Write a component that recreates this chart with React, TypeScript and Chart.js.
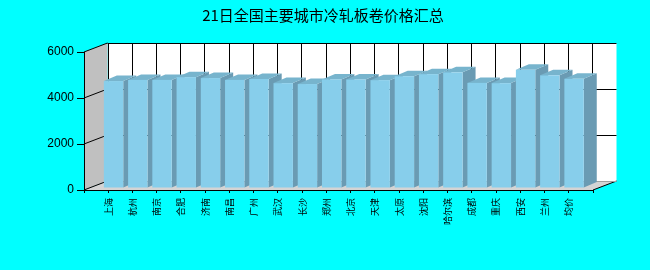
import React, { useEffect, useRef } from 'react';
import { Chart, registerables } from 'chart.js';

Chart.register(...registerables);

const TITLE = '21日全国主要城市冷轧板卷价格汇总';
const cities = ['上海', '杭州', '南京', '合肥', '济南', '南昌', '广州', '武汉', '长沙', '郑州', '北京', '天津', '太原', '沈阳', '哈尔滨', '成都', '重庆', '西安', '兰州', '均价'];
const prices = [4650, 4700, 4700, 4820, 4780, 4700, 4740, 4560, 4520, 4720, 4720, 4690, 4860, 4950, 5030, 4570, 4560, 5140, 4900, 4750];
const yTicks = [0, 2000, 4000, 6000];

const WALL = { dx: 23.5, dy: -9 };
const BAR_SHIFT = { dx: 5.3, dy: -2 };
const BAR_DEPTH = { dx: 13, dy: -5.5 };

const FRONT = '#87CEEB';
const SIDE = '#6A9BB3';
const TOP = '#77B4CD';

function poly(ctx: CanvasRenderingContext2D, pts: number[][], fill: string) {
  ctx.beginPath();
  ctx.moveTo(pts[0][0], pts[0][1]);
  for (let i = 1; i < pts.length; i++) ctx.lineTo(pts[i][0], pts[i][1]);
  ctx.closePath();
  ctx.fillStyle = fill;
  ctx.fill();
}

function line(ctx: CanvasRenderingContext2D, x1: number, y1: number, x2: number, y2: number) {
  ctx.beginPath();
  ctx.moveTo(x1, y1);
  ctx.lineTo(x2, y2);
  ctx.stroke();
}

const r = (v: number) => Math.round(v) + 0.5;

const threeD = {
  id: 'threeD',
  beforeDraw(chart: any) {
    const { ctx, chartArea: a, scales } = chart;
    const xs = scales.x;
    const ys = scales.y;
    ctx.save();
    ctx.fillStyle = '#00FFFF';
    ctx.fillRect(0, 0, chart.width, chart.height);
    const L = a.left, R = a.right, T = a.top, B = a.bottom;
    const dx = WALL.dx, dy = WALL.dy;
    ctx.fillStyle = '#FFFFFF';
    ctx.fillRect(L + dx, T + dy, R - L, B - T);
    poly(ctx, [[L, B], [L + dx, B + dy], [L + dx, T + dy], [L, T]], '#C0C0C0');
    poly(ctx, [[L, B], [R, B], [R + dx, B + dy], [L + dx, B + dy]], '#D4D4D4');
    ctx.strokeStyle = '#000000';
    ctx.lineWidth = 1;
    for (const v of yTicks) {
      const py = ys.getPixelForValue(v);
      line(ctx, L, py, L + dx, py + dy);
      if (v !== yTicks[0]) line(ctx, L + dx, r(py + dy), R + dx, r(py + dy));
    }
    for (let k = 1; k <= cities.length; k++) {
      const px = xs.getPixelForValue(k);
      line(ctx, r(px + dx), T + dy, r(px + dx), B + dy);
    }
    line(ctx, r(L + dx), T + dy, r(L + dx), B + dy);
    line(ctx, R, B, R + dx, B + dy);
    ctx.strokeStyle = '#A0A0A0';
    line(ctx, L + dx, r(B + dy), R + dx, r(B + dy));
    ctx.restore();
  },
  beforeDatasetDraw(chart: any, args: any) {
    const { ctx } = chart;
    const meta = args.meta;
    ctx.save();
    for (const el of meta.data) {
      const p = el.getProps(['x', 'y', 'base', 'width'], true);
      const left = p.x - p.width / 2 + BAR_SHIFT.dx;
      const right = left + p.width;
      const top = p.y + BAR_SHIFT.dy;
      const bottom = p.base + BAR_SHIFT.dy;
      const bx = BAR_DEPTH.dx, by = BAR_DEPTH.dy;
      poly(ctx, [[right, top], [right + bx, top + by], [right + bx, bottom + by], [right, bottom]], SIDE);
      poly(ctx, [[left, top], [right, top], [right + bx, top + by], [left + bx, top + by]], TOP);
      ctx.fillStyle = FRONT;
      ctx.fillRect(left, top, p.width, bottom - top);
    }
    ctx.restore();
    return false;
  },
  afterDraw(chart: any) {
    const { ctx } = chart;
    ctx.save();
    ctx.fillStyle = '#000000';
    ctx.font = '15px "Noto Sans CJK SC", sans-serif';
    ctx.textAlign = 'center';
    ctx.textBaseline = 'middle';
    ctx.fillText(TITLE, 323, 15);
    ctx.restore();
  },
};

export default function App() {
  const ref = useRef<HTMLCanvasElement>(null);
  useEffect(() => {
    if (!ref.current) return;
    const chart = new Chart(ref.current, {
      type: 'bar',
      data: {
        datasets: [
          {
            data: cities.map((c, i) => ({ x: i + 1, y: prices[i] })),
            backgroundColor: FRONT,
            barPercentage: 0.8,
            categoryPercentage: 1,
          } as any,
        ],
      },
      options: {
        responsive: false,
        animation: false,
        events: [],
        layout: { padding: { left: 0, right: 57, top: 52, bottom: 0 } },
        plugins: {
          legend: { display: false },
          tooltip: { enabled: false },
          title: { display: false },
        },
        scales: {
          x: {
            type: 'linear',
            offset: false,
            min: 0,
            max: cities.length + 1,
            afterFit: (s: any) => { s.height = 80; },
            afterBuildTicks: (s: any) => {
              const t = [];
              for (let k = 0; k <= cities.length + 1; k++) t.push({ value: k });
              s.ticks = t;
            },
            ticks: {
              autoSkip: false,
              minRotation: 90,
              maxRotation: 90,
              padding: 5,
              color: '#000000',
              font: { size: 9, family: '"Noto Sans CJK SC", sans-serif' },
              callback: (v: any) => cities[Number(v) - 1] ?? '',
            },
            grid: { offset: false, drawOnChartArea: false, drawTicks: true, tickLength: 3, tickColor: '#000000' },
            border: { display: true, color: '#000000' },
          },
          y: {
            type: 'linear',
            min: 0,
            max: 6000,
            afterFit: (s: any) => { s.width = 84; },
            afterBuildTicks: (s: any) => { s.ticks = yTicks.map((v) => ({ value: v })); },
            ticks: {
              padding: 3,
              color: '#000000',
              font: { size: 12, family: '"Liberation Sans", Arial, sans-serif' },
              callback: (v: any) => String(v),
            },
            grid: { drawOnChartArea: false, drawTicks: true, tickLength: 7, tickColor: '#000000' },
            border: { display: true, color: '#000000' },
          },
        },
      },
      plugins: [threeD],
    });
    return () => chart.destroy();
  }, []);
  return (
    <div style={{ position: 'fixed', left: 0, top: 0, width: 650, height: 270, background: '#00FFFF' }}>
      <canvas ref={ref} width={650} height={270} style={{ display: 'block', width: 650, height: 270 }} />
    </div>
  );
}
